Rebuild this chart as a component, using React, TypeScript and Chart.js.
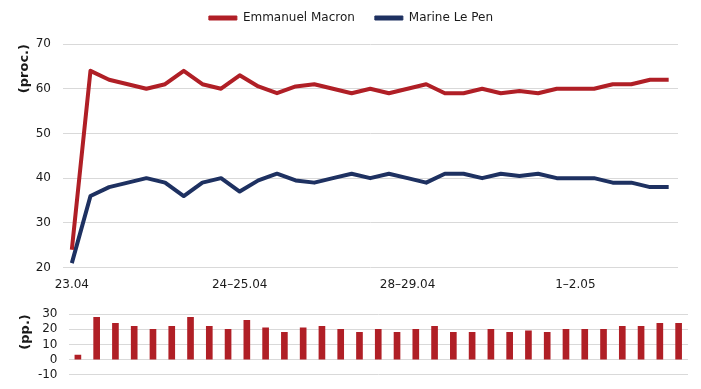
import React, { useEffect, useRef } from "react";
import { Chart, registerables } from "chart.js";

Chart.register(...registerables);

const dateLabels = [
  "23.04", "", "", "", "", "", "", "", "",
  "24–25.04", "", "", "", "", "", "", "", "",
  "28–29.04", "", "", "", "", "", "", "", "",
  "1–2.05", "", "", "", "", "",
];
const macron = [24, 64, 62, 61, 60, 61, 64, 61, 60, 63, 60.5, 59, 60.5, 61, 60, 59, 60, 59, 60, 61, 59, 59, 60, 59, 59.5, 59, 60, 60, 60, 61, 61, 62, 62];
const lePen = [21, 36, 38, 39, 40, 39, 36, 39, 40, 37, 39.5, 41, 39.5, 39, 40, 41, 40, 41, 40, 39, 41, 41, 40, 41, 40.5, 41, 40, 40, 40, 39, 39, 38, 38];
const gap = [3, 28, 24, 22, 20, 22, 28, 22, 20, 26, 21, 18, 21, 22, 20, 18, 20, 18, 20, 22, 18, 18, 20, 18, 19, 18, 20, 20, 20, 22, 22, 24, 24];
const seriesNames = ["Emmanuel Macron", "Marine Le Pen"];
const topAxis = { min: 20, max: 70, step: 10, title: "(proc.)" };
const bottomAxis = { min: -10, max: 30, step: 10, title: "(pp.)" };

const RED = "#B01F26";
const NAVY = "#1E3161";
const GRID = "#D9D9D9";
const TEXT = "#1a1a1a";
const FAMILY = "'DejaVu Sans', Verdana, sans-serif";

export default function App() {
  const topRef = useRef<HTMLCanvasElement>(null);
  const botRef = useRef<HTMLCanvasElement>(null);

  useEffect(() => {
    Chart.defaults.font.family = FAMILY;
    Chart.defaults.font.size = 12;
    Chart.defaults.color = TEXT;

    const legendShift = {
      id: "legendShift",
      afterLayout(chart: any) {
        const lg = chart.legend;
        if (lg) {
          lg.top -= 16;
          lg.bottom -= 16;
          lg.left += 12;
          lg.right += 12;
        }
      },
    };

    const top = new Chart(topRef.current!, {
      type: "line",
      data: {
        labels: dateLabels,
        datasets: [
          {
            label: seriesNames[0],
            data: macron,
            borderColor: RED,
            backgroundColor: RED,
            borderWidth: 4,
            pointRadius: 0,
            tension: 0,
            borderJoinStyle: "round",
          },
          {
            label: seriesNames[1],
            data: lePen,
            borderColor: NAVY,
            backgroundColor: NAVY,
            borderWidth: 4,
            pointRadius: 0,
            tension: 0,
            borderJoinStyle: "round",
          },
        ],
      },
      options: {
        animation: false,
        responsive: false,
        layout: { padding: { top: 8, right: 23, left: 0, bottom: 0 } },
        plugins: {
          tooltip: { enabled: false },
          legend: {
            position: "top",
            maxHeight: 36,
            labels: {
              boxWidth: 28,
              boxHeight: 4,
              padding: 20,
              color: TEXT,
              font: { size: 12, family: FAMILY },
              generateLabels: (chart: any) =>
                chart.data.datasets.map((d: any, i: number) => ({
                  text: d.label,
                  fillStyle: d.borderColor,
                  strokeStyle: d.borderColor,
                  lineWidth: 1,
                  datasetIndex: i,
                  hidden: false,
                  fontColor: TEXT,
                })),
            },
          },
        },
        scales: {
          x: {
            offset: true,
            grid: { display: false, drawTicks: false },
            border: { display: false },
            ticks: {
              autoSkip: false,
              maxRotation: 0,
              minRotation: 0,
              padding: 10,
              color: TEXT,
            },
          },
          y: {
            min: topAxis.min,
            max: topAxis.max,
            afterFit: (s: any) => {
              s.width = 62.5;
            },
            ticks: { stepSize: topAxis.step, padding: 11.5, color: TEXT, autoSkip: false },
            grid: { color: GRID, drawTicks: false, lineWidth: 1 },
            border: { display: false },
            title: {
              display: true,
              text: topAxis.title,
              align: "end",
              color: TEXT,
              font: { size: 13, weight: "bold", family: FAMILY },
              padding: { top: 17.2, bottom: 0 },
            },
          },
        },
      },
      plugins: [legendShift],
    } as any);

    const bottom = new Chart(botRef.current!, {
      type: "bar",
      data: {
        labels: dateLabels,
        datasets: [
          {
            label: "gap",
            data: gap,
            backgroundColor: RED,
            barThickness: 6,
          },
        ],
      },
      options: {
        animation: false,
        responsive: false,
        layout: { padding: { top: 0, right: 13, left: 0, bottom: 0 } },
        plugins: { legend: { display: false }, tooltip: { enabled: false } },
        scales: {
          x: { display: false },
          y: {
            min: bottomAxis.min,
            max: bottomAxis.max,
            afterFit: (s: any) => {
              s.width = 68.5;
            },
            ticks: { stepSize: bottomAxis.step, padding: 11, color: TEXT, autoSkip: false },
            grid: { color: GRID, drawTicks: false, lineWidth: 1 },
            border: { display: false },
            title: {
              display: true,
              text: bottomAxis.title,
              align: "end",
              color: TEXT,
              font: { size: 13, weight: "bold", family: FAMILY },
              padding: { top: 17.7, bottom: 0 },
            },
          },
        },
      },
    } as any);

    return () => {
      top.destroy();
      bottom.destroy();
    };
  }, []);

  return (
    <div style={{ position: "absolute", left: 0, top: 0, width: 701, height: 389, overflow: "hidden", background: "#fff" }}>
      <canvas ref={topRef} width={701} height={302} style={{ position: "absolute", left: 0, top: 0, display: "block" }} />
      <canvas ref={botRef} width={701} height={97} style={{ position: "absolute", left: 0, top: 296, display: "block" }} />
    </div>
  );
}
